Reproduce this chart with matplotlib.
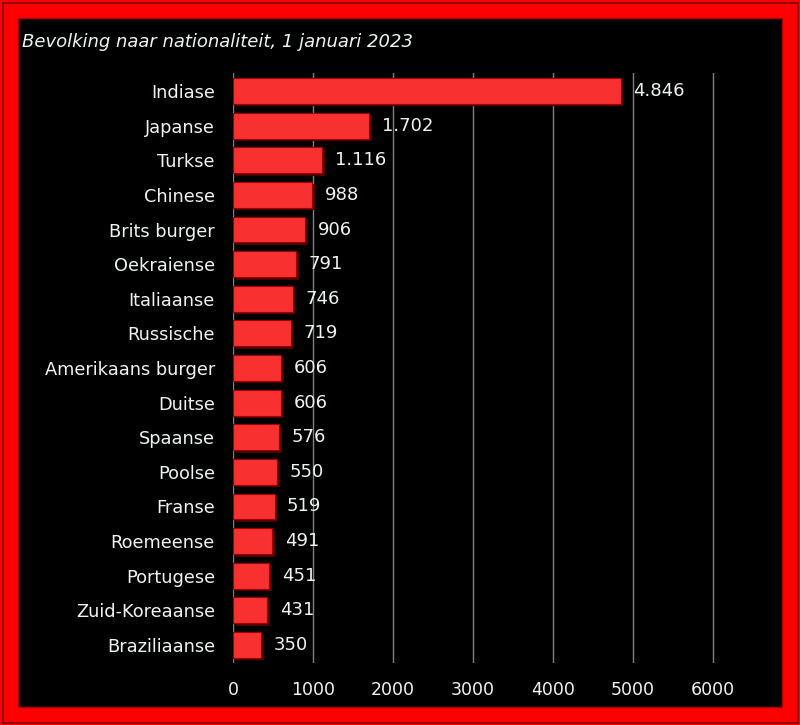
#!/usr/bin/env python3
"""Bevolking naar nationaliteit, 1 januari 2023 - horizontal bar chart."""

import matplotlib
matplotlib.use("Agg")
import matplotlib.pyplot as plt
import matplotlib.patheffects as pe
from matplotlib.patches import Rectangle

nationalities = [
    "Indiase", "Japanse", "Turkse", "Chinese", "Brits burger", "Oekraiense",
    "Italiaanse", "Russische", "Amerikaans burger", "Duitse", "Spaanse",
    "Poolse", "Franse", "Roemeense", "Portugese", "Zuid-Koreaanse", "Braziliaanse",
]
counts = [4846, 1702, 1116, 988, 906, 791, 746, 719, 606, 606, 576, 550, 519, 491, 451, 431, 350]
xticks = [0, 1000, 2000, 3000, 4000, 5000, 6000]

TXT = "#eef4f4"
BAR = "#f83030"

W, H = 800, 725
fig = plt.figure(figsize=(W / 100, H / 100), dpi=100, facecolor="#ff0000")

# frame: thin dark line near the edge, black panel inside the red band
def px_rect(x0, y0, x1, y1, **kw):
    # pixel coords measured from top-left
    return Rectangle((x0 / W, 1 - y1 / H), (x1 - x0) / W, (y1 - y0) / H,
                     transform=fig.transFigure, figure=fig, zorder=-5, **kw)

fig.patches.append(px_rect(2.5, 2.5, 797.5, 722.5, facecolor="none", edgecolor="#7a0000", lw=1.2))
fig.patches.append(px_rect(18, 18, 782, 707, facecolor="black", edgecolor="#b00000", lw=1.0))

fig.text(22 / W, 1 - 42 / H, "Bevolking naar nationaliteit, 1 januari 2023",
         color=TXT, fontsize=13, fontstyle="italic", va="center", ha="left")

# x scale: 0 at 233 px, 80 px per 1000
xmax = 6100
ax = fig.add_axes([233 / W, (H - 663) / H, xmax * 0.08 / W, (663 - 73) / H])
ax.set_facecolor("none")

ypos = list(range(len(nationalities)))
bars = ax.barh(ypos, counts, height=0.75, color=BAR, edgecolor="#a00000", lw=0.8, zorder=3)
for b in bars:
    b.set_path_effects([pe.SimplePatchShadow(offset=(1.8, -1.8), shadow_rgbFace="#500000", alpha=1.0),
                        pe.Normal()])

for y, v in zip(ypos, counts):
    ax.annotate(f"{v:,}".replace(",", "."), (v, y), xytext=(9, 0), textcoords="offset points",
                color=TXT, fontsize=13, va="center", ha="left", zorder=4)

ax.set_xlim(0, xmax)
ax.set_ylim(len(nationalities) - 0.48, -0.52)
ax.set_xticks(xticks)
ax.set_xticklabels([str(t) for t in xticks])
ax.set_yticks(ypos)
ax.set_yticklabels(nationalities)
ax.tick_params(axis="both", length=0, colors=TXT, labelsize=12.8)
ax.tick_params(axis="y", pad=13)
ax.tick_params(axis="x", pad=13, labelsize=12.5)
ax.grid(axis="x", color="#7c8480", lw=1.0, zorder=0)
for s in ax.spines.values():
    s.set_visible(False)

fig.savefig("out.png", dpi=100, facecolor=fig.get_facecolor())
